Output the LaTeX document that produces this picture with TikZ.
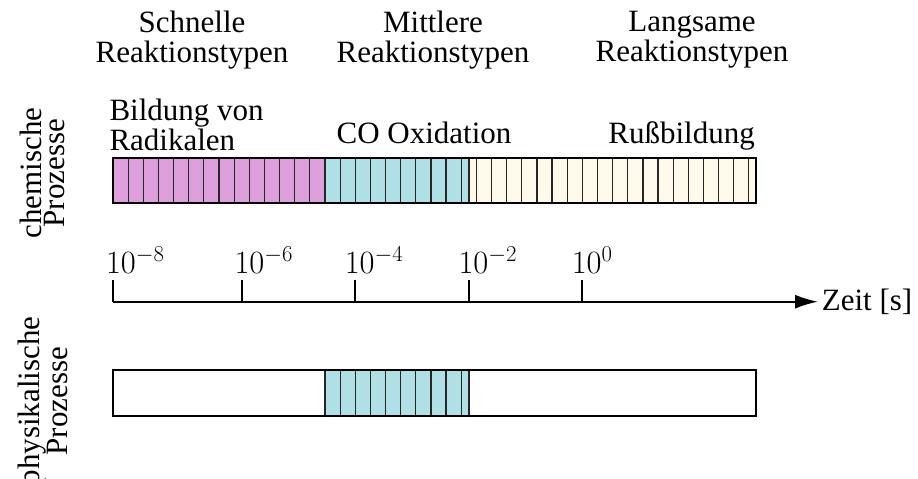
\RequirePackage{fix-cm}
\documentclass[tikz,border=0pt]{standalone}
\usepackage[no-math]{fontspec}
\setmainfont{Liberation Serif}
\usetikzlibrary{arrows.meta}
\definecolor{fastc}{RGB}{221,160,221}
\definecolor{midc}{RGB}{176,224,230}
\definecolor{slowc}{RGB}{255,249,236}
\tikzset{
  barframe/.style={draw=black, line width=2pt},
  stripe/.style={draw=black!85, line width=1.2pt},
  axisline/.style={draw=black, line width=2pt},
  txt/.style={inner sep=0pt, font=\fontsize{31}{30}\selectfont},
  numtxt/.style={inner sep=0pt, font=\fontsize{32.5}{32}\selectfont},
  rottxt/.style={inner sep=0pt, rotate=90, align=center, font=\fontsize{31}{22.5}\selectfont},
}
\begin{document}
\begin{tikzpicture}[x=1pt,y=-1pt]
\useasboundingbox (0,0) rectangle (918,479);
% headings
\node[txt, align=center] (fast) at (192,40) {Schnelle\\Reaktionstypen};
\node[txt, align=center] (mid) at (433,40) {Mittlere\\Reaktionstypen};
\node[txt, align=center] (slow) at (692,40) {Langsame\\Reaktionstypen};
% side labels
\node[rottxt] (chem) at (42.5,173) {chemische\\Prozesse};
\node[rottxt] (phys) at (42.5,401) {physikalische\\Prozesse};
% process labels
\node[txt, align=left, anchor=west] (rad) at (109.3,124.5) {Bildung von\\Radikalen};
\node[txt, anchor=base] (co) at (424,143) {CO Oxidation};
\node[txt, anchor=base east] (russ) at (755,143) {Rußbildung};
% upper bar
\fill[fastc] (113,158) rectangle (325,203);
\fill[midc] (325,158) rectangle (469,203);
\fill[slowc] (469,158) rectangle (756,203);
\foreach \k in {1,...,42} \draw[stripe] ({113+\k*15.14},158) -- ++(0,45);
\draw[stripe] (469,158) -- ++(0,45);
\draw[barframe] (113,158) rectangle (756,203);
% lower bar
\fill[midc] (325,370) rectangle (469,416);
\foreach \k in {14,...,23} \draw[stripe] ({113+\k*15.14},370) -- ++(0,46);
\draw[stripe] (469,370) -- ++(0,46);
\draw[barframe] (113,370) rectangle (756,416);
% axis
\coordinate (ax0) at (113,301.7);
\coordinate (ax1) at (818,301.7);
\draw[axisline, -{Latex[length=23pt,width=14pt]}] (ax0) -- (ax1);
\node[txt, anchor=base west] (zeit) at (821.7,310) {Zeit [s]};
\foreach \x/\lx/\e in {113/105.9/-8, 242.3/234.3/-6, 355.3/344.6/-4, 468.7/458.3/-2, 582.3/571.6/0} {
  \draw[axisline] (\x,301.7) -- (\x,280);
  \node[numtxt, anchor=base west] at (\lx,273.3) {$10^{\e}$};
}
\end{tikzpicture}
\end{document}
